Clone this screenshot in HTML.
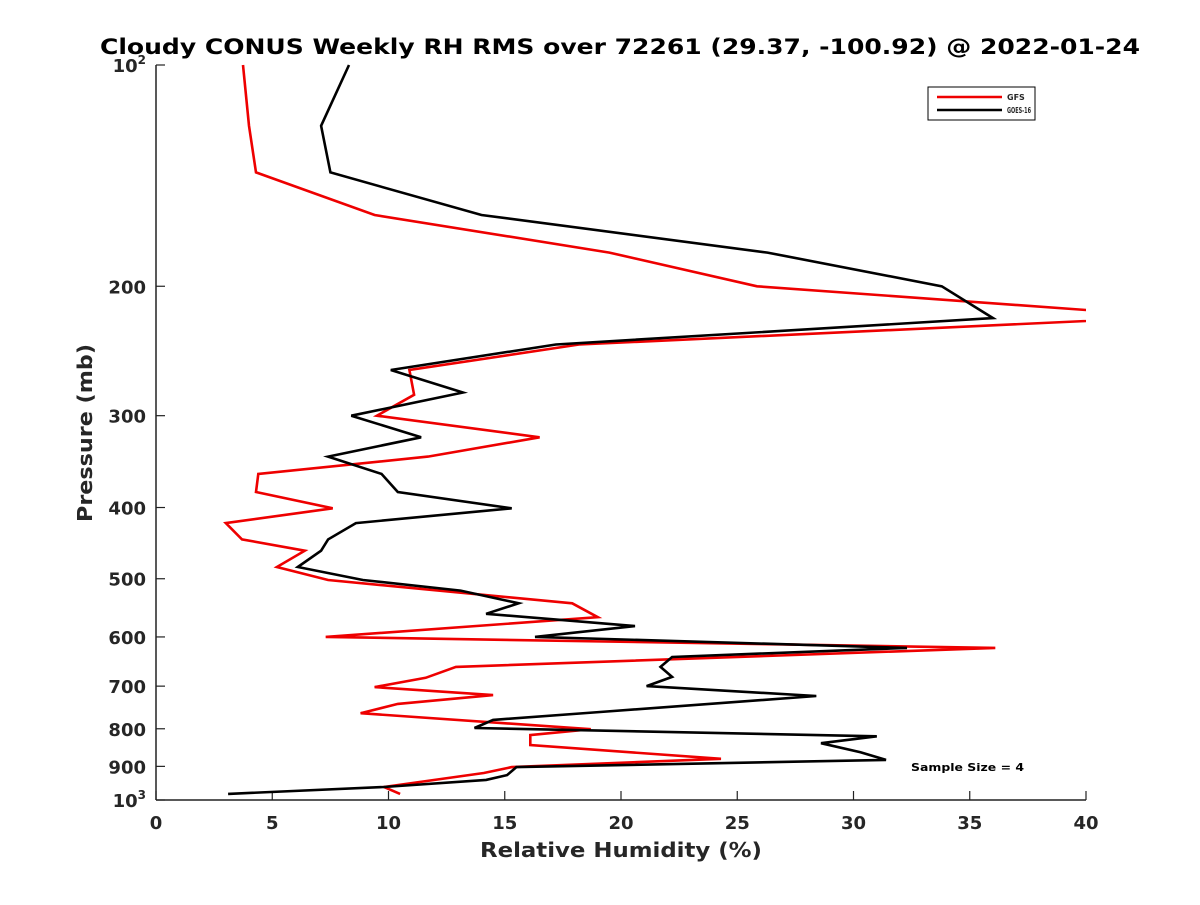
<!DOCTYPE html>
<html><head><meta charset="utf-8"><style>
body{margin:0;background:#fff}
svg text{font-family:"DejaVu Sans","Liberation Sans",sans-serif;font-weight:bold;fill:#262626}
</style></head><body>
<svg id="chart" width="1200" height="900" xmlns="http://www.w3.org/2000/svg">
<defs><clipPath id="plotclip"><rect x="156" y="60" width="930" height="745"/></clipPath></defs>
<text x="620" y="54" text-anchor="middle" font-size="21" style="fill:#000" textLength="1040" lengthAdjust="spacingAndGlyphs">Cloudy CONUS Weekly RH RMS over 72261 (29.37, -100.92) @ 2022-01-24</text>
<g id="axes"></g>
<g id="series" clip-path="url(#plotclip)"></g>
<text x="621" y="857" text-anchor="middle" font-size="20" textLength="282" lengthAdjust="spacingAndGlyphs">Relative Humidity (%)</text>
<text transform="translate(92,433) rotate(-90)" text-anchor="middle" font-size="20" textLength="178" lengthAdjust="spacingAndGlyphs">Pressure (mb)</text>
<g>
<rect x="928" y="87" width="107" height="33" fill="#fff" stroke="#000" stroke-width="1"/>
<line x1="937" y1="97" x2="1002" y2="97" stroke="#e00" stroke-width="2.5"/>
<text x="1007" y="100" font-size="8">GFS</text>
<line x1="937" y1="110" x2="1002" y2="110" stroke="#000" stroke-width="2.5"/>
<text x="1007" y="113" font-size="8" textLength="24" lengthAdjust="spacingAndGlyphs">GOES-16</text>
</g>
<text x="911" y="771" font-size="11" style="fill:#000" textLength="113" lengthAdjust="spacingAndGlyphs">Sample Size = 4</text>
</svg>
<script>
const xTicks=[0,5,10,15,20,25,30,35,40];
const yTicks=[100,200,300,400,500,600,700,800,900,1000];
const gfsX=[3.74,4.0,4.3,9.4,19.5,25.85,44,18.2,10.9,11.1,9.5,16.5,11.7,4.4,4.3,7.6,3.0,3.7,6.4,5.2,7.4,17.9,19.0,7.3,36.1,12.9,11.6,9.4,14.5,10.4,8.8,18.7,16.1,16.1,24.3,15.3,14.1,9.8,10.5];
const gfsP=[100,121,140,160,180,200,220,240,260,281,300,321,341,360,381,401,420,442,458,482,502,540,564,600,621,659,682,702,720,740,762,801,816,842,879,902,919,960,981];
const goesX=[8.3,7.1,7.5,14.0,26.3,33.8,36.0,17.2,10.1,13.2,8.4,11.4,7.4,9.7,10.4,15.3,8.6,7.4,7.1,6.1,8.9,13.1,15.6,14.2,20.6,16.3,32.3,22.2,21.7,22.2,21.1,28.4,19.1,14.5,13.7,31.0,28.6,30.3,31.4,15.5,15.1,14.2,9.8,3.1];
const goesP=[100,121,140,160,180,200,221,240,260,279,300,321,341,360,381,401,420,442,458,482,502,519,540,558,580,600,621,639,659,680,700,722,759,778,798,819,837,861,882,902,925,939,960,981];
const NS="http://www.w3.org/2000/svg";
const X=v=>156+v*(930/40);
const Y=p=>65+735*Math.log10(p/100);
function mk(t,a,par){const e=document.createElementNS(NS,t);for(const k in a)e.setAttribute(k,a[k]);par.appendChild(e);return e;}
const ax=document.getElementById('axes');
const xl=mk('line',{x1:156,y1:800,x2:1086,y2:800,stroke:'#222','stroke-width':1.5},ax);


const yl=mk('line',{x1:156,y1:65,x2:156,y2:800,stroke:'#222','stroke-width':1.5},ax);


xTicks.forEach(v=>{
 mk('line',{x1:X(v),y1:800,x2:X(v),y2:791,stroke:'#222','stroke-width':1.2},ax);
 const t=mk('text',{x:X(v),y:829,'text-anchor':'middle','font-size':18},ax);
 t.textContent=v;
 
 
});
yTicks.forEach(p=>{
 const y=Y(p);
 mk('line',{x1:156,y1:y,x2:165,y2:y,stroke:'#222','stroke-width':1.2},ax);
 const t=mk('text',{x:146,y:y+7,'text-anchor':'end','font-size':18},ax);
 if(p===100||p===1000){t.textContent='10';const s=mk('tspan',{dy:-8,'font-size':12},t);s.textContent=(p===100?'2':'3');}
 else t.textContent=p;
 
 
});
const sg=document.getElementById('series');
function line(xs,ps,col,name){
 const pts=xs.map((v,i)=>X(v).toFixed(1)+','+Y(ps[i]).toFixed(1)).join(' ');
 const pl=mk('polyline',{points:pts,fill:'none',stroke:col,'stroke-width':2.6,'stroke-linejoin':'miter'},sg);
 
 
}
line(gfsX,gfsP,'#e00','gfs-line');
line(goesX,goesP,'#000','goes16-line');
</script>
</body></html>
